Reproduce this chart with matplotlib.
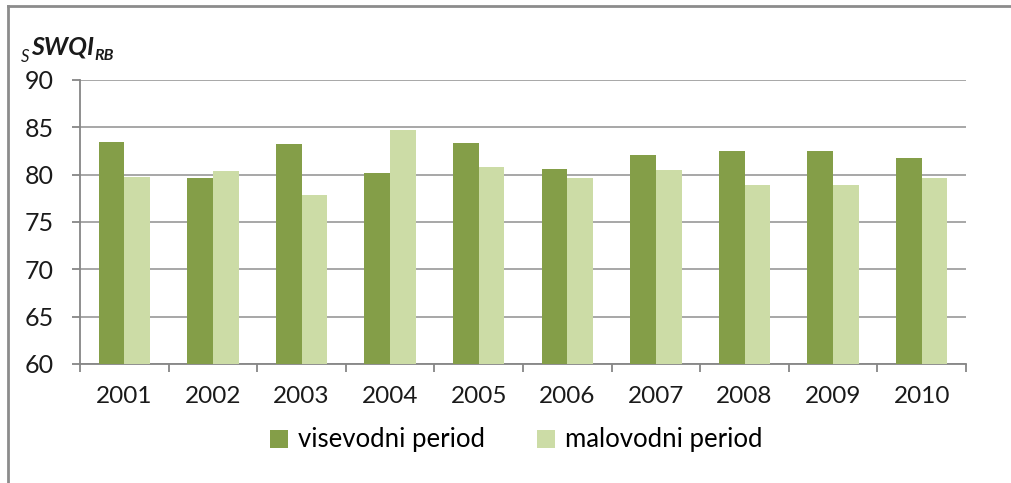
import numpy as np
import matplotlib
matplotlib.use("Agg")
import matplotlib.pyplot as plt
from matplotlib.lines import Line2D

# Values
years = ["2001", "2002", "2003", "2004", "2005", "2006", "2007", "2008", "2009", "2010"]
visevodni = [83.5, 79.6, 83.2, 80.2, 83.35, 80.55, 82.1, 82.55, 82.55, 81.8]
malovodni = [79.7, 80.35, 77.9, 84.75, 80.85, 79.6, 80.5, 78.95, 78.95, 79.6]
series_names = ["visevodni period", "malovodni period"]

plt.rcParams["font.family"] = ["Lato", "DejaVu Sans"]

fig = plt.figure(figsize=(10.12, 4.83), dpi=100)
ax = fig.add_axes([0.0791, 0.2464, 0.8755, 0.588])

x = np.arange(len(years))
w = 0.29
dark = "#849E48"
light = "#CCDCA6"
ax.bar(x - w / 2, visevodni, w, color=dark, label=series_names[0], zorder=3)
ax.bar(x + w / 2, malovodni, w, color=light, label=series_names[1], zorder=3)

ax.set_ylim(60, 90)
ax.set_xlim(-0.5, len(years) - 0.5)
ax.set_yticks(range(60, 91, 5))
ax.yaxis.grid(True, color="#a0a0a0", linewidth=1.3, zorder=0)
ax.set_axisbelow(True)

# category labels at centers, tick marks at boundaries
ax.set_xticks(x)
ax.set_xticklabels(years)
ax.set_xticks(np.arange(-0.5, len(years)), minor=True)
ax.tick_params(axis="x", which="major", length=0, pad=16, labelsize=17.5, colors="#1a1a1a")
ax.tick_params(axis="x", which="minor", length=6, width=1.3, color="#868686")
ax.tick_params(axis="y", length=6, width=1.3, color="#868686", pad=13, labelsize=18, labelcolor="#1a1a1a")

for s in ["top", "right"]:
    ax.spines[s].set_visible(False)
for s in ["left", "bottom"]:
    ax.spines[s].set_color("#868686")
    ax.spines[s].set_linewidth(1.3)

# axis title: sSWQI_RB
fig.text(21 / 1012, 1 - 62 / 483, "S", fontsize=12, style="italic", va="baseline", color="#1a1a1a")
fig.text(31 / 1012, 1 - 55 / 483, "SWQI", fontsize=18, style="italic", weight="bold", va="baseline", color="#1a1a1a")
fig.text(94 / 1012, 1 - 60 / 483, "RB", fontsize=11.5, style="italic", weight="bold", va="baseline", color="#1a1a1a")

fig.legend(loc="center", bbox_to_anchor=(0.51, 1 - 440 / 483), ncol=2, frameon=False,
           fontsize=18.5, handlelength=0.7, handleheight=0.7, handletextpad=0.4,
           columnspacing=2.0)

# outer frame lines (left and top)
fig.add_artist(Line2D([8 / 1012, 8 / 1012], [0, 1 - 6 / 483], color="#8c8c8c", linewidth=2, transform=fig.transFigure))
fig.add_artist(Line2D([8 / 1012, 1], [1 - 6 / 483, 1 - 6 / 483], color="#8c8c8c", linewidth=2, transform=fig.transFigure))

fig.savefig("out.png", dpi=100)
